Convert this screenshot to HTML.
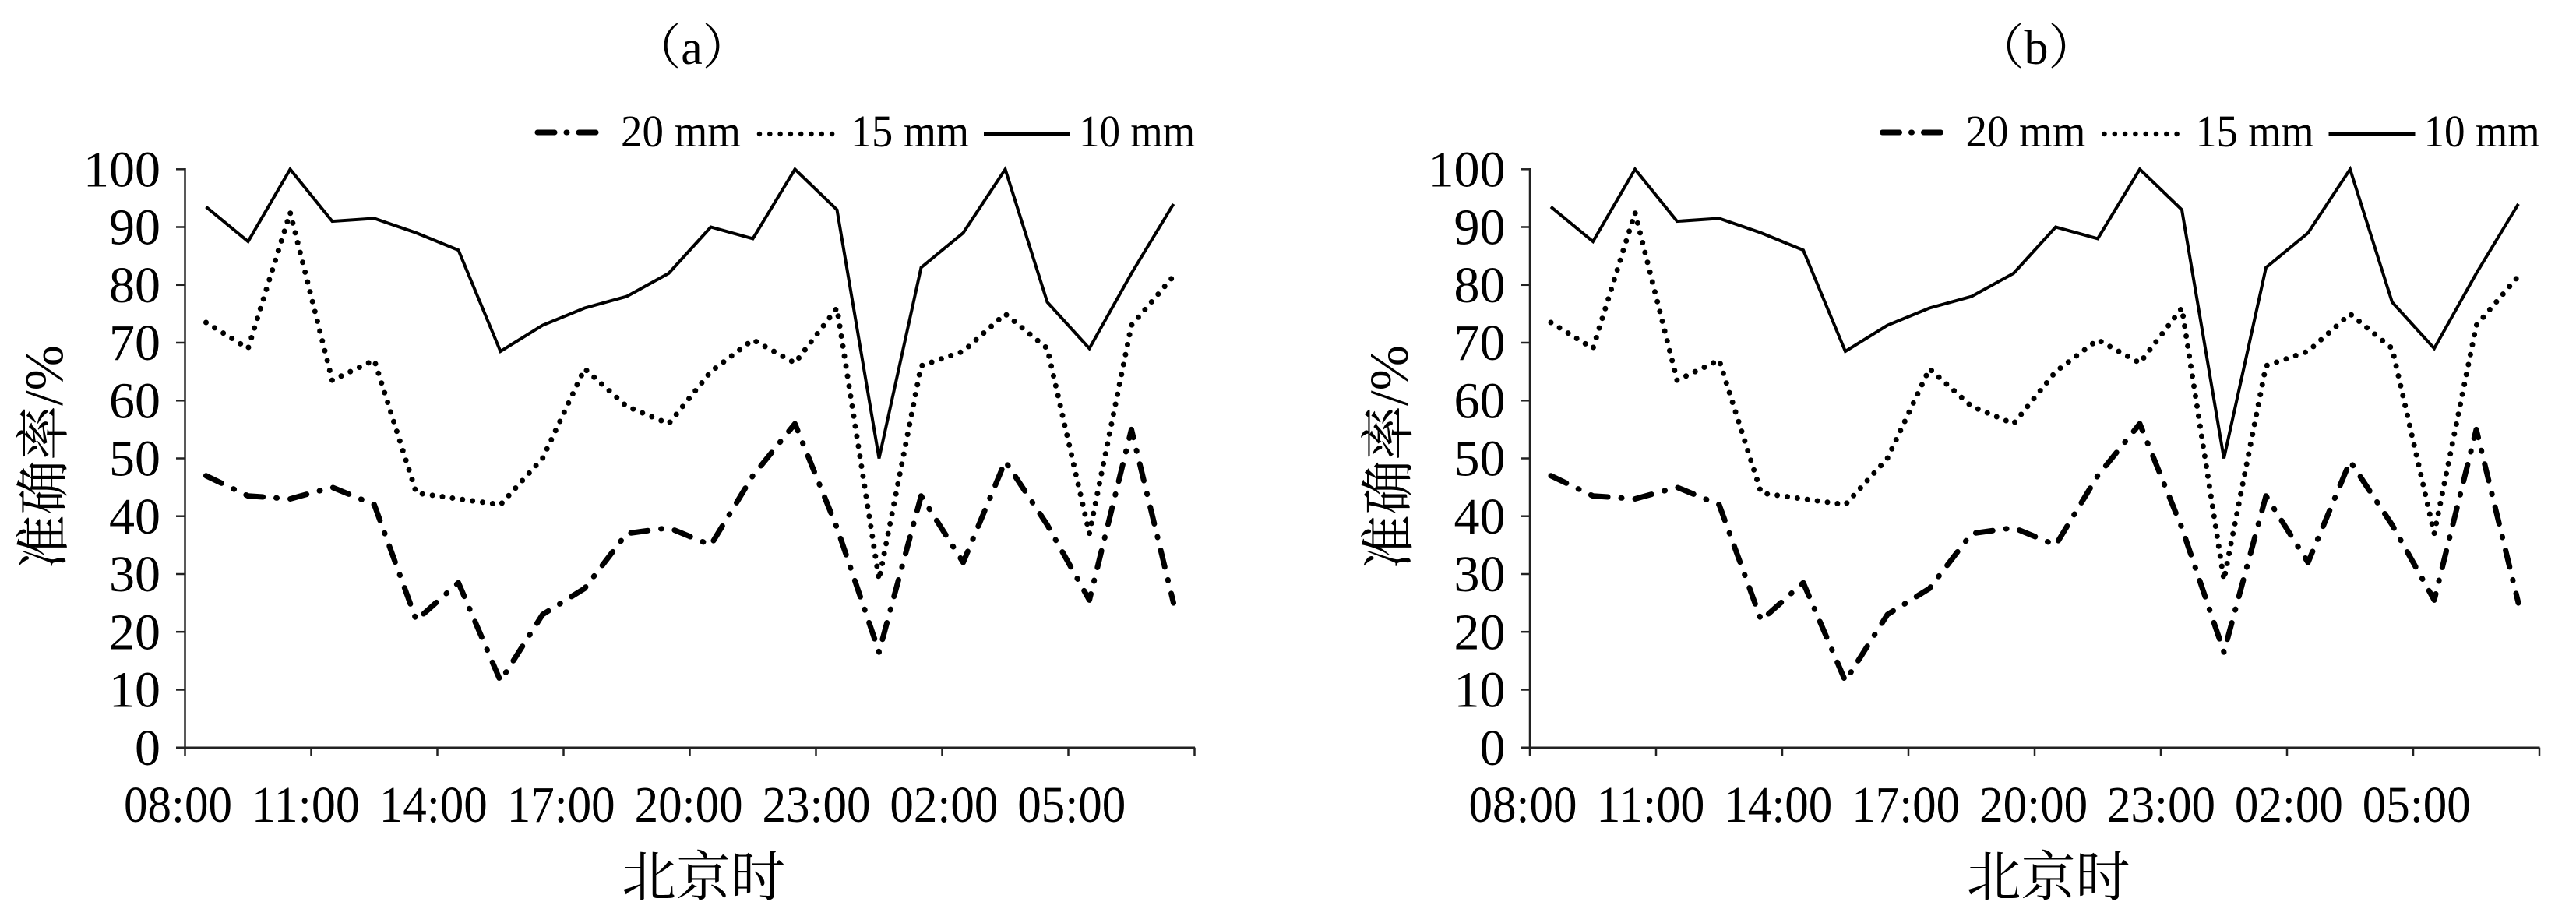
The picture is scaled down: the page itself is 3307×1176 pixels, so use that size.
<!DOCTYPE html>
<html><head><meta charset="utf-8"><style>
html,body{margin:0;padding:0;background:#fff;}
svg{display:block;}
text{font-family:"Liberation Serif","Noto Serif CJK SC",serif;fill:#000;}
</style></head><body>
<svg xmlns="http://www.w3.org/2000/svg" width="3307" height="1176" viewBox="0 0 3307 1176" font-family="Liberation Serif, Noto Serif CJK SC, serif">
<defs>
<g id="chart">
  <line x1="237.5" y1="216" x2="237.5" y2="961" stroke="#222" stroke-width="2.5"/>
  <line x1="226" y1="959.7" x2="1534" y2="959.7" stroke="#222" stroke-width="2.5"/>
  <g stroke="#222" stroke-width="2.5">
    <line x1="226" y1="217.3" x2="237.5" y2="217.3"/>
    <line x1="226" y1="291.5" x2="237.5" y2="291.5"/>
    <line x1="226" y1="365.8" x2="237.5" y2="365.8"/>
    <line x1="226" y1="440" x2="237.5" y2="440"/>
    <line x1="226" y1="514.3" x2="237.5" y2="514.3"/>
    <line x1="226" y1="588.5" x2="237.5" y2="588.5"/>
    <line x1="226" y1="662.7" x2="237.5" y2="662.7"/>
    <line x1="226" y1="737" x2="237.5" y2="737"/>
    <line x1="226" y1="811.2" x2="237.5" y2="811.2"/>
    <line x1="226" y1="885.5" x2="237.5" y2="885.5"/>
    <line x1="237.5" y1="959.7" x2="237.5" y2="971"/>
    <line x1="399.5" y1="959.7" x2="399.5" y2="971"/>
    <line x1="561.5" y1="959.7" x2="561.5" y2="971"/>
    <line x1="723.5" y1="959.7" x2="723.5" y2="971"/>
    <line x1="885.5" y1="959.7" x2="885.5" y2="971"/>
    <line x1="1047.5" y1="959.7" x2="1047.5" y2="971"/>
    <line x1="1209.5" y1="959.7" x2="1209.5" y2="971"/>
    <line x1="1371.5" y1="959.7" x2="1371.5" y2="971"/>
    <line x1="1533.5" y1="959.7" x2="1533.5" y2="971"/>
  </g>
  <g font-size="66" text-anchor="end" font-family="Liberation Serif, serif">
    <text x="206" y="239.5">100</text>
    <text x="206" y="313.7">90</text>
    <text x="206" y="388">80</text>
    <text x="206" y="462.2">70</text>
    <text x="206" y="536.5">60</text>
    <text x="206" y="610.7">50</text>
    <text x="206" y="685">40</text>
    <text x="206" y="759.2">30</text>
    <text x="206" y="833.5">20</text>
    <text x="206" y="907.7">10</text>
    <text x="206" y="982">0</text>
  </g>
  <g font-size="66" text-anchor="middle" font-family="Liberation Serif, serif">
    <text x="228.5" y="1055" textLength="139" lengthAdjust="spacingAndGlyphs">08:00</text>
    <text x="392.4" y="1055" textLength="139" lengthAdjust="spacingAndGlyphs">11:00</text>
    <text x="556.3" y="1055" textLength="139" lengthAdjust="spacingAndGlyphs">14:00</text>
    <text x="720.2" y="1055" textLength="139" lengthAdjust="spacingAndGlyphs">17:00</text>
    <text x="884.1" y="1055" textLength="139" lengthAdjust="spacingAndGlyphs">20:00</text>
    <text x="1048" y="1055" textLength="139" lengthAdjust="spacingAndGlyphs">23:00</text>
    <text x="1211.9" y="1055" textLength="139" lengthAdjust="spacingAndGlyphs">02:00</text>
    <text x="1375.8" y="1055" textLength="139" lengthAdjust="spacingAndGlyphs">05:00</text>
  </g>
  <text x="903" y="1150" font-size="70" text-anchor="middle" font-family="Liberation Serif, Noto Serif CJK SC, serif">北京时</text>
  <text x="0" y="0" font-size="70" text-anchor="middle" font-family="Liberation Serif, Noto Serif CJK SC, serif" transform="translate(80,587) rotate(-90)">准确率/%</text>
  <line x1="690" y1="170" x2="776" y2="170" stroke="#000" stroke-width="7" stroke-dasharray="22 15 1 15" stroke-linecap="round"/>
  <text x="797" y="188" font-size="58" textLength="154" lengthAdjust="spacingAndGlyphs" font-family="Liberation Serif, serif">20 mm</text>
  <line x1="975" y1="172" x2="1081" y2="172" stroke="#000" stroke-width="6.5" stroke-dasharray="0 13.3" stroke-linecap="round"/>
  <text x="1092" y="188" font-size="58" textLength="152" lengthAdjust="spacingAndGlyphs" font-family="Liberation Serif, serif">15 mm</text>
  <line x1="1263" y1="172" x2="1374" y2="172" stroke="#000" stroke-width="4"/>
  <text x="1385" y="188" font-size="58" textLength="149" lengthAdjust="spacingAndGlyphs" font-family="Liberation Serif, serif">10 mm</text>
  <polyline fill="none" stroke="#000" stroke-width="4"
   points="264.5,265.6 318.5,310.1 372.5,217.3 426.5,284.1 480.5,280.4 534.5,299.0 588.5,321.2 642.5,451.1 696.5,417.7 750.5,395.5 804.5,380.6 858.5,350.9 912.5,291.5 966.5,306.4 1020.5,217.3 1074.5,269.3 1128.5,588.5 1182.5,343.5 1236.5,299.0 1290.5,217.3 1344.5,388.0 1398.5,447.4 1452.5,351.0 1506.5,261.9"/>
  <polyline fill="none" stroke="#000" stroke-width="7" stroke-dasharray="0 13" stroke-linecap="round" stroke-linejoin="round"
   points="264.5,414.0 318.5,447.4 372.5,272.9 426.5,488.3 480.5,462.3 534.5,633.0 588.5,640.5 642.5,647.9 696.5,588.5 750.5,473.4 804.5,521.7 858.5,544.0 912.5,477.1 966.5,436.3 1020.5,466.0 1074.5,395.5 1128.5,744.4 1182.5,469.7 1236.5,451.1 1290.5,403.0 1344.5,447.4 1398.5,685.0 1452.5,417.7 1506.5,354.6"/>
  <polyline fill="none" stroke="#000" stroke-width="7" stroke-dasharray="22 17 1 17" stroke-linecap="round" stroke-linejoin="round"
   points="264.5,610.8 318.5,636.7 372.5,640.5 426.5,625.6 480.5,647.9 534.5,796.4 588.5,748.1 642.5,874.3 696.5,789.0 750.5,755.5 804.5,685.0 858.5,677.6 912.5,699.8 966.5,610.8 1020.5,544.0 1074.5,677.6 1128.5,837.2 1182.5,636.7 1236.5,722.1 1290.5,592.2 1344.5,673.9 1398.5,770.4 1452.5,551.4 1506.5,774.1"/>
</g>
</defs>
<rect width="3307" height="1176" fill="#fff"/>
<text x="888" y="82" font-size="62" text-anchor="middle" font-family="Liberation Serif, Noto Serif CJK SC, serif">（a）</text>
<text x="2614" y="82" font-size="62" text-anchor="middle" font-family="Liberation Serif, Noto Serif CJK SC, serif">（b）</text>
<use href="#chart"/>
<use href="#chart" transform="translate(1726.5,0)"/>
</svg>
</body></html>
